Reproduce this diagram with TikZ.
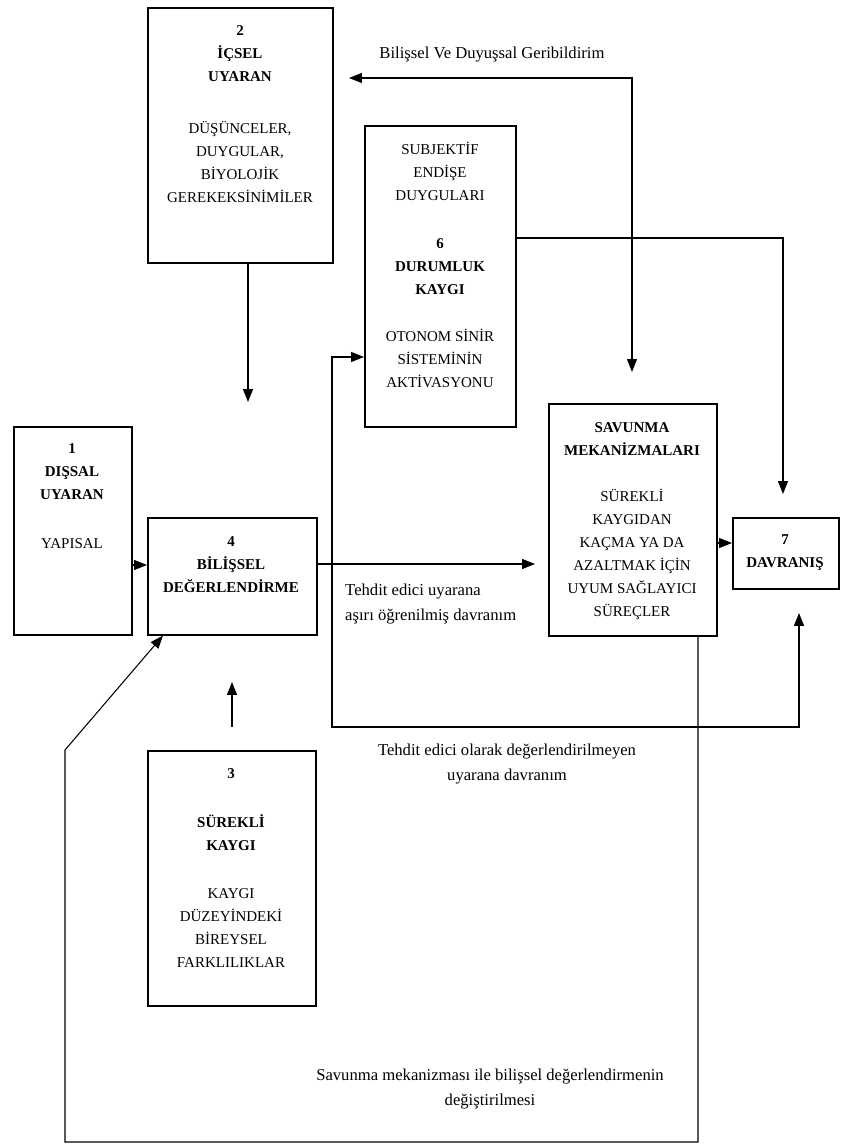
\documentclass[tikz,border=0pt]{standalone}
\usepackage{fontspec}
\setmainfont{Liberation Serif}
\usetikzlibrary{arrows.meta,positioning}

\tikzset{
  box/.style={draw, line width=1.4pt, inner sep=0pt, anchor=north west},
  txt/.style={align=center, inner sep=0pt, font=\fontsize{12.8}{19.6}\selectfont},
  lbl/.style={align=center, inner sep=0pt, font=\fontsize{14.2}{22}\selectfont},
  line/.style={line width=0.9pt},
  arr/.style={line width=0.9pt, ->},
  >={Triangle[length=11pt,width=8.5pt]},
}

\begin{document}
\begin{tikzpicture}[x=0.03cm, y=-0.03cm]
\useasboundingbox (0,0) rectangle (841,1144);

% boxes
\node[box, minimum width=5.55cm, minimum height=7.65cm] (b2) at (147,7) {};
\node[box, minimum width=4.53cm, minimum height=9.03cm] (b6) at (364,125) {};
\node[box, minimum width=3.54cm, minimum height=6.24cm] (b1) at (13,426) {};
\node[box, minimum width=5.07cm, minimum height=3.51cm] (b4) at (147,517) {};
\node[box, minimum width=5.04cm, minimum height=6.96cm] (b5) at (548,403) {};
\node[box, minimum width=3.18cm, minimum height=2.13cm] (b7) at (732,517) {};
\node[box, minimum width=5.04cm, minimum height=7.65cm] (b3) at (147,750) {};

% box texts
\node[txt] (t2) at (240,114) {\textbf{2}\\\textbf{İÇSEL}\\\textbf{UYARAN}\\[25pt]
  DÜŞÜNCELER,\\DUYGULAR,\\BİYOLOJİK\\GEREKEKSİNİMİLER};
\node[txt] (t6) at (440,265) {SUBJEKTİF\\ENDİŞE\\DUYGULARI\\[21pt]
  \textbf{6}\\\textbf{DURUMLUK}\\\textbf{KAYGI}\\[21pt]
  OTONOM SİNİR\\SİSTEMİNİN\\AKTİVASYONU};
\node[txt] (t1) at (72,496) {\textbf{1}\\\textbf{DIŞSAL}\\\textbf{UYARAN}\\[22pt]YAPISAL};
\node[txt] (t4) at (231,565) {\textbf{4}\\\textbf{BİLİŞSEL}\\\textbf{DEĞERLENDİRME}};
\node[txt] (t5) at (632,521) {\textbf{SAVUNMA}\\\textbf{MEKANİZMALARI}\\[20pt]
  SÜREKLİ\\KAYGIDAN\\KAÇMA YA DA\\AZALTMAK İÇİN\\UYUM SAĞLAYICI\\SÜREÇLER};
\node[txt] (t7) at (785,553) {\textbf{7}\\\textbf{DAVRANIŞ}};
\node[txt] (t3) at (231,868) {\textbf{3}\\[22pt]\textbf{SÜREKLİ}\\\textbf{KAYGI}\\[21pt]
  KAYGI\\DÜZEYİNDEKİ\\BİREYSEL\\FARKLILIKLAR};

% connector labels
\node[lbl] (lfb) at (492,55) {Bilişsel Ve Duyuşsal Geribildirim};
\node[lbl, align=left, anchor=west] (lta) at (345,604) {Tehdit edici uyarana\\aşırı öğrenilmiş davranım};
\node[lbl] (ltb) at (507,764) {Tehdit edici olarak değerlendirilmeyen\\uyarana davranım};
\node[lbl] (lsv) at (490,1089) {Savunma mekanizması ile bilişsel değerlendirmenin\\değiştirilmesi};

% connectors
\coordinate (fbL) at (349,78);
\coordinate (fbC) at (632,78);
\coordinate (fbD) at (632,372);
\draw[line, <->] (fbL) -- (fbC) -- (fbD);

\coordinate (d2) at (248,402);
\draw[arr] (b2.south -| d2) -- (d2);

\coordinate (u3a) at (232,727);
\coordinate (u3b) at (232,682);
\draw[arr] (u3a) -- (u3b);

\coordinate (m14) at (139,565);
\draw[arr] (b1.east |- m14) -- (b4.west |- m14);

\coordinate (m45) at (535,564);
\draw[arr] (b4.east |- m45) -- (m45);

\coordinate (k6) at (783,238);
\coordinate (k7) at (783,494);
\draw[arr] (b6.east |- k6) -- (k6) -- (k7);

\coordinate (v1) at (332,357);
\coordinate (v2) at (332,727);
\coordinate (v3) at (799,727);
\coordinate (v4) at (799,613);
\draw[line, <->] (b6.west |- v1) -- (v1) -- (v2) -- (v3) -- (v4);

\coordinate (m57) at (724,543);
\draw[arr] (b5.east |- m57) -- (b7.west |- m57);

\coordinate (s1) at (698,1142);
\coordinate (s2) at (65,1142);
\coordinate (s3) at (65,750);
\draw[arr] (b5.south -| s1) -- (s1) -- (s2) -- (s3) -- ([xshift=13.6pt]b4.south west);
\end{tikzpicture}
\end{document}
